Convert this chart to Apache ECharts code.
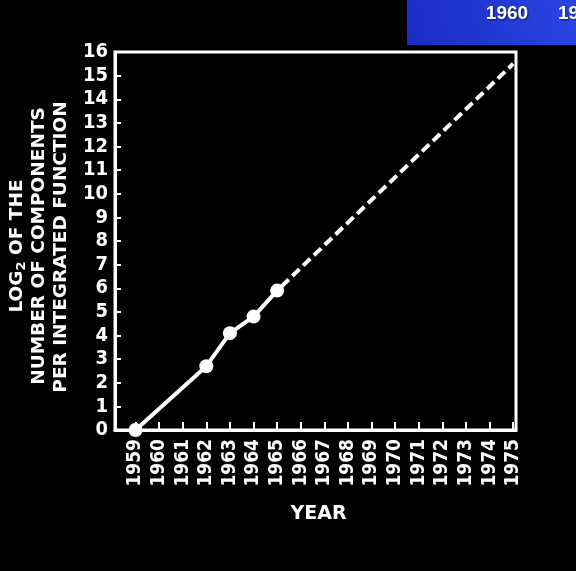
<!DOCTYPE html>
<html>
<head>
<meta charset="utf-8">
<script src="https://cdn.jsdelivr.net/npm/echarts@6/dist/echarts.min.js"></script>
<style>
html,body{margin:0;padding:0;background:#000;}
#chart{width:576px;height:571px;}
</style>
</head>
<body>
<div id="chart"></div>
<script>
// Measured data (log2 of components per integrated function)
const years = [1959, 1962, 1963, 1964, 1965];
const log2Components = [0, 2.7, 4.1, 4.8, 5.9];
const projectionYears = [1965, 1975];
const projectionValues = [5.9, 15.5];
const yearTicks = [1959,1960,1961,1962,1963,1964,1965,1966,1967,1968,1969,1970,1971,1972,1973,1974,1975];
const yTickLabels = ['0','1','2','3','4','5','6','7','8','9','10','11','12','13','14','15','16'];
const xAxisTitle = 'YEAR';
const yTitleLines = ['NUMBER OF COMPONENTS', 'PER INTEGRATED FUNCTION'];
const bannerYears = ['1960', '19'];

const chart = echarts.init(document.getElementById('chart'), null, {renderer: 'canvas'});
const white = '#ffffff';
const cond = '"DejaVu Sans Condensed", "DejaVu Sans", sans-serif';
const sans = '"DejaVu Sans", sans-serif';

const option = {
  backgroundColor: '#000000',
  animation: false,
  grid: {
    left: 115, right: 60, top: 52, bottom: 141,
    show: true, borderColor: white, borderWidth: 3, backgroundColor: 'transparent'
  },
  xAxis: {
    type: 'value',
    min: 1958.13,
    max: 1975.12,
    name: xAxisTitle,
    nameLocation: 'middle',
    nameGap: 75,
    nameTextStyle: {color: white, fontFamily: sans, fontWeight: 'bold', fontSize: 19, verticalAlign: 'top', padding: [0, 0, 0, 6]},
    axisLine: {show: true, lineStyle: {color: white, width: 3}},
    axisTick: {show: true, inside: true, length: 8, customValues: yearTicks, lineStyle: {color: white, width: 2}},
    axisLabel: {
      show: true, customValues: yearTicks, rotate: 90, margin: 9,
      color: white, fontFamily: cond, fontWeight: 'bold', fontSize: 19,
      formatter: v => String(Math.round(v))
    },
    splitLine: {show: false}
  },
  yAxis: {
    type: 'value',
    min: 0, max: 16, interval: 1,
    axisLine: {show: true, lineStyle: {color: white, width: 3}},
    axisTick: {show: true, inside: true, length: 6, lineStyle: {color: white, width: 2}},
    axisLabel: {
      color: white, fontFamily: cond, fontWeight: 'bold', fontSize: 20, margin: 7,
      formatter: v => yTickLabels[Math.round(v)]
    },
    splitLine: {show: false}
  },
  series: [
    {
      type: 'line',
      data: years.map((y, i) => [y, log2Components[i]]),
      symbol: 'circle', symbolSize: 14,
      itemStyle: {color: white},
      lineStyle: {color: white, width: 4},
      clip: false, z: 3
    },
    {
      type: 'line',
      data: projectionYears.map((y, i) => [y, projectionValues[i]]),
      symbol: 'none',
      lineStyle: {color: white, width: 4, type: [10, 5], dashOffset: -6},
      clip: false, z: 2
    }
  ],
  graphic: [
    {
      type: 'rect',
      shape: {x: 407, y: 0, width: 169, height: 45},
      style: {
        fill: new echarts.graphic.LinearGradient(0, 1, 1, 0, [
          {offset: 0, color: '#1a2cc4'},
          {offset: 1, color: '#2b44e2'}
        ])
      }
    },
    {
      type: 'text', x: 507, y: 14,
      style: {text: bannerYears[0], fill: white, font: 'bold 19px "Liberation Sans", Arial, sans-serif',
        align: 'center', verticalAlign: 'middle', textShadowColor: 'rgba(0,0,0,0.6)', textShadowBlur: 2, textShadowOffsetX: 1, textShadowOffsetY: 1}
    },
    {
      type: 'text', x: 558, y: 14,
      style: {text: bannerYears[1], fill: white, font: 'bold 19px "Liberation Sans", Arial, sans-serif',
        align: 'left', verticalAlign: 'middle', textShadowColor: 'rgba(0,0,0,0.6)', textShadowBlur: 2, textShadowOffsetX: 1, textShadowOffsetY: 1}
    },
    {
      type: 'text', x: 17.5, y: 246, rotation: Math.PI / 2,
      style: {
        text: '{a|LOG}{s|2}{a| OF THE}',
        align: 'center', verticalAlign: 'middle',
        rich: {
          a: {fill: white, fontFamily: sans, fontWeight: 'bold', fontSize: 18.5},
          s: {fill: white, fontFamily: sans, fontWeight: 'bold', fontSize: 13, padding: [8, 0, 0, 0]}
        }
      }
    },
    {
      type: 'text', x: 39.5, y: 246, rotation: Math.PI / 2,
      style: {text: yTitleLines[0], fill: white, fontFamily: sans, fontWeight: 'bold', fontSize: 18.5, align: 'center', verticalAlign: 'middle'}
    },
    {
      type: 'text', x: 61.5, y: 247, rotation: Math.PI / 2,
      style: {text: yTitleLines[1], fill: white, fontFamily: sans, fontWeight: 'bold', fontSize: 18.5, align: 'center', verticalAlign: 'middle'}
    }
  ]
};
chart.setOption(option);
</script>
</body>
</html>
